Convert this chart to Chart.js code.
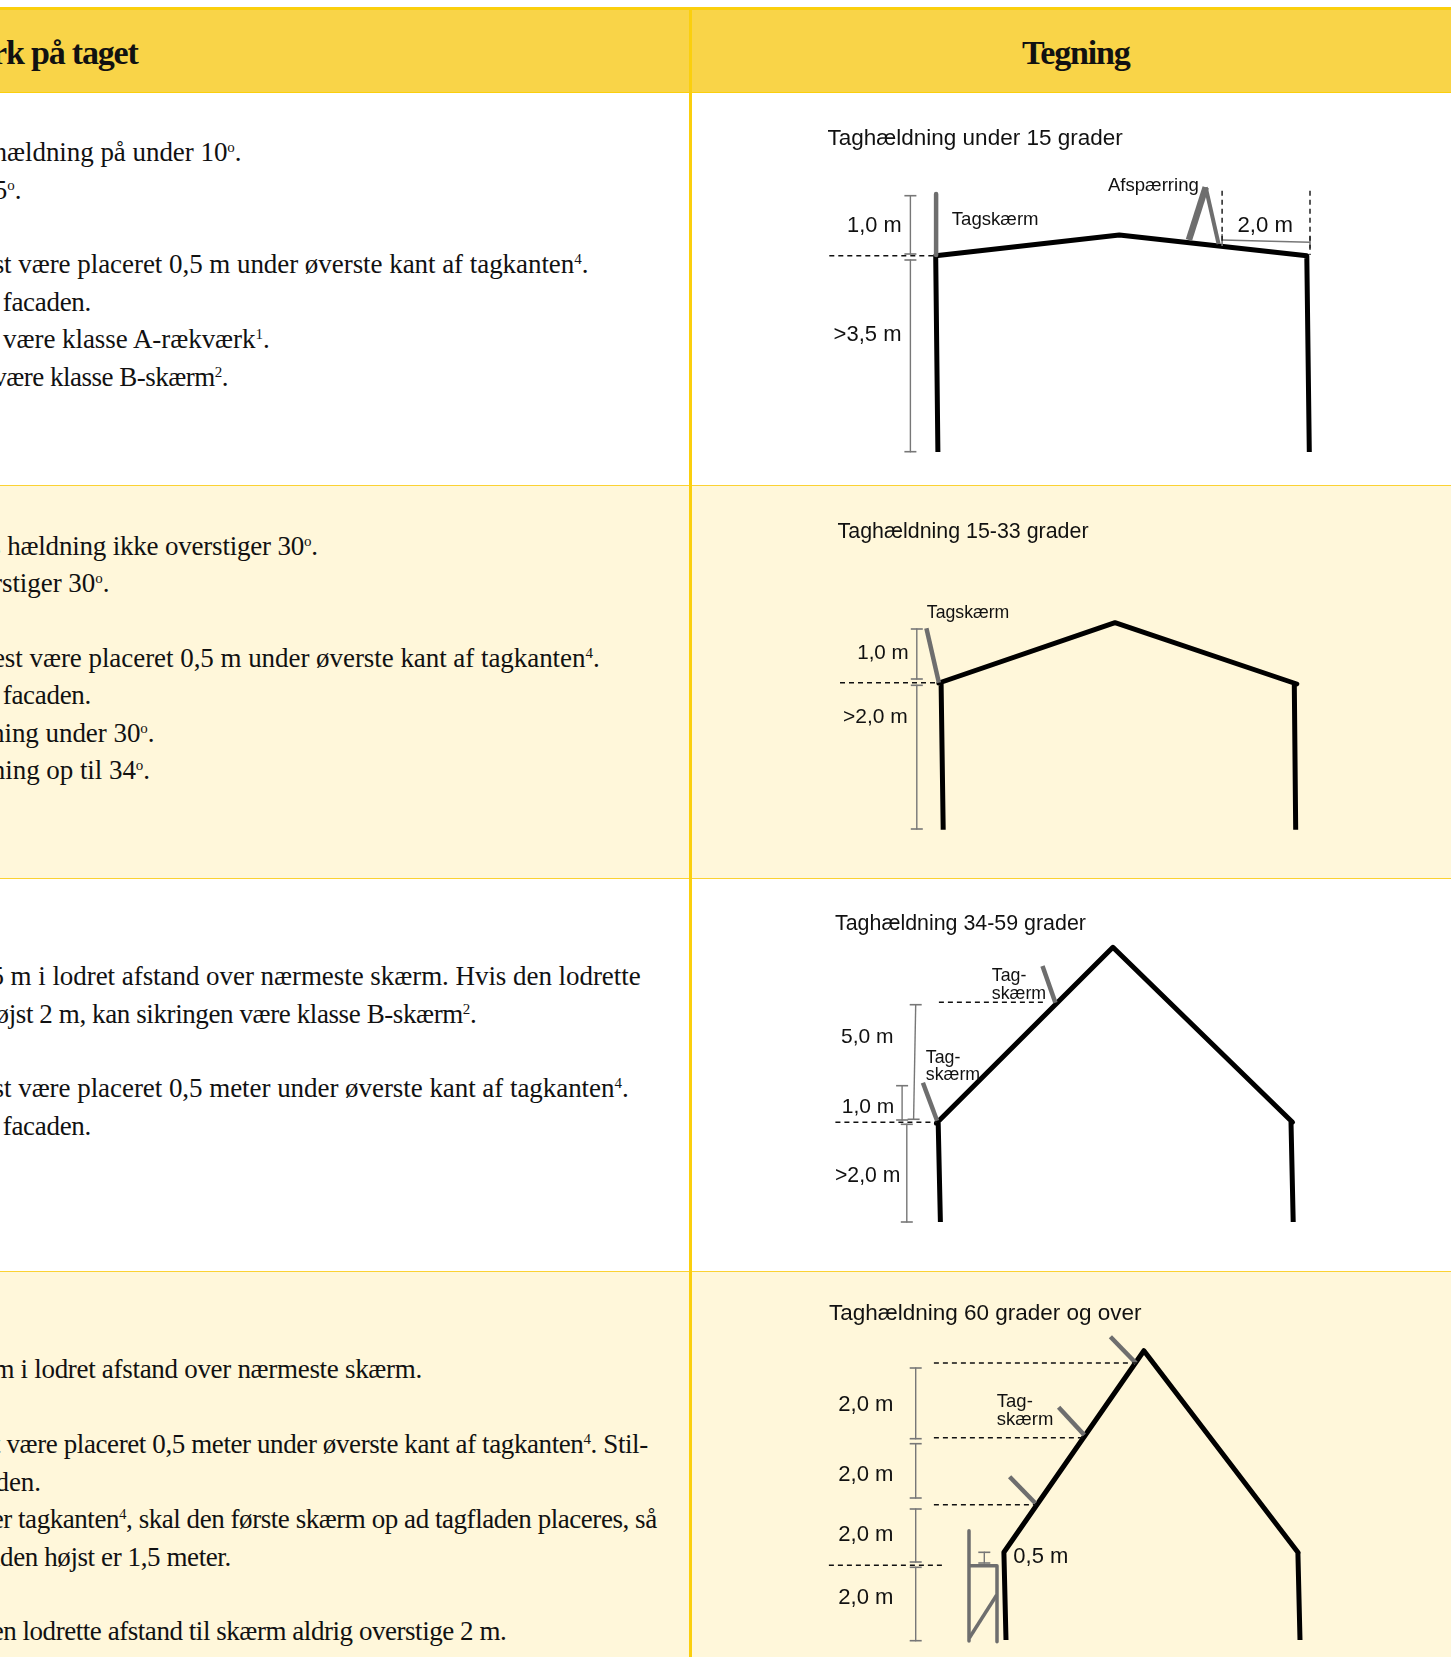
<!DOCTYPE html>
<html>
<head>
<meta charset="utf-8">
<script src="https://cdn.jsdelivr.net/npm/chart.js@4"></script>
<style>
  html, body { margin: 0; padding: 0; background: #fff; }
  #page { position: relative; width: 1451px; height: 1657px; overflow: hidden; background: #fff; }
  .band { position: absolute; left: 0; width: 1451px; }
  .line { position: absolute; white-space: nowrap; color: #111; font-family: "Liberation Serif", serif;
          font-size: 27px; line-height: 30px; letter-spacing: -0.05px; }
  .line sup { font-size: 15px; line-height: 0; vertical-align: 9px; }
  .head { font-weight: bold; font-size: 34px; line-height: 40px; letter-spacing: -1.2px; color: #111; }
  canvas { position: absolute; }
</style>
</head>
<body>
<div id="page"></div>
<script>
// Drawing 1: roof under 15 degrees
let roof1 = [[937.9, 452], [935.7, 255.7], [1119.3, 235], [1306.8, 255.7], [1309.3, 452]]
let screen1 = [[936.1, 194], [936.1, 255]]
let barrierA = [[1188.9, 240], [1205.7, 187.3]]
let barrierB = [[1205.7, 187.3], [1218.6, 244]]
let dims1 = [
  [[910.4, 195.7], [910.4, 254]],
  [[910.4, 260], [910.4, 451.7]]
]
let dims1h = [[[1222.1, 240], [1310, 242.3]]]
let dashes1 = [
  [[829.3, 255.7], [936, 255.7]],
  [[1222.1, 190.7], [1222.1, 244]],
  [[1310, 190.7], [1310, 255]]
]
let labels1 = [
  ["Taghældning under 15 grader", 827.5, 145, 22.5],
  ["Tagskærm", 951.8, 225, 18.6],
  ["Afspærring", 1107.9, 191, 18.6],
  ["1,0 m", 847.1, 232.3, 21.8],
  [">3,5 m", 833.6, 340.7, 22],
  ["2,0 m", 1237.4, 232.3, 22.2]
]

// Drawing 2: roof 15-33 degrees
let roof2 = [[943.2, 829.7], [941.1, 683.3], [938.9, 683], [1115, 622.7], [1296.8, 684], [1294.3, 684], [1295.7, 829.7]]
let screen2 = [[926.4, 628.3], [938.9, 682.7]]
let dims2 = [
  [[916.8, 629], [916.8, 679]],
  [[916.8, 685.3], [916.8, 829]]
]
let dashes2 = [[[840, 682.7], [937, 682.7]]]
let labels2 = [
  ["Taghældning 15-33 grader", 837.6, 537.7, 21.4],
  ["Tagskærm", 926.8, 617.7, 17.7],
  ["1,0 m", 857.2, 659, 20.6],
  [">2,0 m", 843, 723.3, 21]
]

// Drawing 3: roof 34-59 degrees
let roof3 = [[940.4, 1222], [938.2, 1123.3], [936.4, 1123.3], [1112.9, 947.3], [1292.5, 1122.3], [1291, 1122], [1293.2, 1222]]
let screen3a = [[922.9, 1082.7], [937.1, 1120.7]]
let screen3b = [[1042.5, 966], [1055.4, 1002.7]]
let dims3 = [
  [[915.7, 1004.7], [913.6, 1119.3]],
  [[902.1, 1085.7], [902.1, 1120]],
  [[906.8, 1124.3], [906.8, 1222]]
]
let dashes3 = [
  [[835.4, 1122.3], [937, 1122.3]],
  [[938.9, 1002.3], [1045, 1002.3]]
]
let labels3 = [
  ["Taghældning 34-59 grader", 835, 930, 21.4],
  ["Tag-", 991.8, 981.3, 17.8],
  ["skærm", 991.8, 998.7, 17.8],
  ["Tag-", 925.8, 1062.7, 17.8],
  ["skærm", 925.8, 1080, 17.8],
  ["5,0 m", 841, 1043.3, 21],
  ["1,0 m", 841.8, 1112.7, 21],
  [">2,0 m", 835, 1182, 21.2]
]

// Drawing 4: roof 60 degrees and over
let roof4 = [[1006, 1640], [1003.9, 1552.3], [1143.9, 1350.7], [1298.2, 1552.7], [1297.9, 1552.7], [1300, 1640]]
let screen4a = [[1110.4, 1336.7], [1136.1, 1363.3]]
let screen4b = [[1058.6, 1407.3], [1084.3, 1435]]
let screen4c = [[1009.6, 1476.7], [1035.4, 1503.3]]
let dims4 = [
  [[915.7, 1368], [915.7, 1438.7]],
  [[915.7, 1443.7], [915.7, 1498]],
  [[915.7, 1509], [915.7, 1562]],
  [[915.7, 1567.3], [915.7, 1640.7]],
  [[984.3, 1552.3], [984.3, 1563]]
]
let dashes4 = [
  [[933.9, 1363], [1137.1, 1363]],
  [[933.9, 1437.7], [1083.6, 1437.7]],
  [[933.9, 1504.7], [1036.4, 1504.7]],
  [[828.9, 1565.3], [942, 1565.3]]
]
let scaffoldPost = [[969, 1530.7], [969, 1641]]
let scaffoldBox = [[969, 1565.7], [997, 1565.7], [997, 1641.7]]
let scaffoldBrace = [[969.3, 1638], [996.7, 1595]]
let labels4 = [
  ["Taghældning 60 grader og over", 828.9, 1320, 22.5],
  ["Tag-", 996.8, 1406.7, 18.5],
  ["skærm", 996.8, 1425, 18.5],
  ["2,0 m", 838.2, 1410.7, 22.1],
  ["2,0 m", 838.2, 1480.7, 22.1],
  ["2,0 m", 838.2, 1540.7, 22.1],
  ["2,0 m", 838.2, 1604.3, 22.1],
  ["0,5 m", 1013.3, 1562.7, 22]
]

// Table text: line, right edge, baseline, letter spacing if it differs
let headerLines = [
  ["Rækværk på taget", 137.5, 64],
  ["Tegning", 1129.5, 64]
]
let bodyLines = [
  ["Rækværk ved taghældning på under 10<sup>o</sup>.", 241.5, 161],
  ["under 15<sup>o</sup>.", 21.4, 199],
  ["Skærmen skal mindst være placeret 0,5 m under øverste kant af tagkanten<sup>4</sup>.", 588.4, 273.3],
  ["langs facaden.", 91, 311, -0.3],
  ["Det skal være klasse A-rækværk<sup>1</sup>.", 269.6, 348],
  ["Det kan være klasse B-skærm<sup>2</sup>.", 228, 386, -0.5],
  ["Hvis hældning ikke overstiger 30<sup>o</sup>.", 317.9, 555, -0.2],
  ["overstiger 30<sup>o</sup>.", 109.4, 592.3],
  ["Skærmen skal mindest være placeret 0,5 m under øverste kant af tagkanten<sup>4</sup>.", 599.6, 667.3],
  ["langs facaden.", 91, 704.3, -0.3],
  ["hældning under 30<sup>o</sup>.", 154.5, 741.7],
  ["hældning op til 34<sup>o</sup>.", 150, 779],
  ["Højst 5 m i lodret afstand over nærmeste skærm. Hvis den lodrette", 640.6, 985],
  ["afstand er højst 2 m, kan sikringen være klasse B-skærm<sup>2</sup>.", 476.3, 1023.3, -0.4],
  ["Skærmen skal mindst være placeret 0,5 meter under øverste kant af tagkanten<sup>4</sup>.", 628.6, 1097.3],
  ["langs facaden.", 91, 1135, -0.3],
  ["Højst 2 m i lodret afstand over nærmeste skærm.", 421.9, 1378.3, -0.3],
  ["Skærmen skal mindst være placeret 0,5 meter under øverste kant af tagkanten<sup>4</sup>. Stil-", 647.8, 1453.3, -0.4],
  ["facaden.", 41, 1491],
  ["Ved stillads under tagkanten<sup>4</sup>, skal den første skærm op ad tagfladen placeres, så", 656.7, 1528.3, -0.45],
  ["afstanden højst er 1,5 meter.", 230.8, 1565.7, -0.4],
  ["Dog må den lodrette afstand til skærm aldrig overstige 2 m.", 506.3, 1640, -0.45]
]

let page = document.getElementById('page')

// ////////////////////////////
// Table
// ////////////////////////////

function band(top, height, color) {
  let d = document.createElement('div')
  d.className = 'band'
  d.style.top = top + 'px'
  d.style.height = height + 'px'
  d.style.background = color
  page.appendChild(d)
  return d
}

band(10, 81.5, '#f9d448')
band(486, 392, '#fff7da')
band(1272, 385, '#fff7da')
band(7, 3, '#fbcf0d')
band(91.5, 1, '#fbcf0d')
band(485, 1, '#fbd233')
band(878, 1, '#fbd233')
band(1271, 1, '#fbd233')

let divider = band(7, 1650, '#fbcf0d')
divider.style.left = '689px'
divider.style.width = '3px'

function putLine(item, cls, size, lineHeight) {
  let d = document.createElement('div')
  d.className = cls
  d.innerHTML = item[0]
  d.style.right = (1451 - item[1]) + 'px'
  // Liberation Serif baseline sits 0.3375em under the middle of the line box
  d.style.top = (item[2] - lineHeight / 2 - 0.3375 * size) + 'px'
  if (item[3] !== undefined) {
    d.style.letterSpacing = item[3] + 'px'
  }
  page.appendChild(d)
}

headerLines.forEach(l => putLine(l, 'line head', 34, 40))
bodyLines.forEach(l => putLine(l, 'line', 27, 30))

// ////////////////////////////
// Charts
// ////////////////////////////

// Write the label list of a chart as text at its own scale positions
const labelPlugin = {
  id: 'drawingLabels',
  afterDatasetsDraw(chart, args, opts) {
    let ctx = chart.ctx
    ctx.save()
    ctx.fillStyle = '#111'
    ctx.textBaseline = 'alphabetic'
    opts.items.forEach(l => {
      ctx.font = l[3] + 'px "Liberation Sans", Arial, sans-serif'
      ctx.fillText(l[0], chart.scales.x.getPixelForValue(l[1]), chart.scales.y.getPixelForValue(l[2]))
    })
    ctx.restore()
  }
}

function toPoints(list) {
  return list.map(p => ({ x: p[0], y: p[1] }))
}

function stroke(list, color, width) {
  return {
    data: toPoints(list), showLine: true, borderColor: color, borderWidth: width,
    pointRadius: 0, borderCapStyle: 'butt', borderJoinStyle: 'round', tension: 0
  }
}

function roofLine(list) { return stroke(list, '#000', 5) }
function screenLine(list, width) { return stroke(list, '#6e6e6e', width || 4.5) }

function dashLine(list) {
  let d = stroke(list, '#111', 1.4)
  d.borderDash = [5, 4]
  return d
}

// Measure line with its end ticks, the ticks are the dataset's own points
function dimLine(list, rotation) {
  let d = stroke(list, '#777', 1.4)
  d.pointStyle = 'line'
  d.pointRadius = 6
  d.pointRotation = rotation || 0
  d.pointBorderColor = '#777'
  d.pointBorderWidth = 1.6
  return d
}

function drawChart(top, bottom, datasets, labels) {
  let left = 692, right = 1451
  let canvas = document.createElement('canvas')
  canvas.width = right - left
  canvas.height = bottom - top
  canvas.style.left = left + 'px'
  canvas.style.top = top + 'px'
  page.appendChild(canvas)
  return new Chart(canvas.getContext('2d'), {
    type: 'scatter',
    data: { datasets: datasets },
    options: {
      responsive: false,
      animation: false,
      layout: { padding: 0, autoPadding: false },
      scales: {
        x: { type: 'linear', display: false, min: left, max: right },
        y: { type: 'linear', display: false, min: top, max: bottom, reverse: true }
      },
      plugins: {
        legend: { display: false },
        tooltip: { enabled: false },
        drawingLabels: { items: labels }
      }
    },
    plugins: [labelPlugin]
  })
}

drawChart(94, 485, [
  ...dashes1.map(dashLine),
  ...dims1.map(d => dimLine(d)),
  ...dims1h.map(d => dimLine(d, 90)),
  screenLine(screen1),
  screenLine(barrierA, 6.5),
  screenLine(barrierB, 4),
  roofLine(roof1)
], labels1)

drawChart(487, 878, [
  ...dashes2.map(dashLine),
  ...dims2.map(d => dimLine(d)),
  screenLine(screen2),
  roofLine(roof2)
], labels2)

drawChart(880, 1271, [
  ...dashes3.map(dashLine),
  ...dims3.map(d => dimLine(d)),
  screenLine(screen3a),
  screenLine(screen3b),
  roofLine(roof3)
], labels3)

drawChart(1273, 1657, [
  ...dashes4.map(dashLine),
  ...dims4.map(d => dimLine(d)),
  screenLine(screen4a),
  screenLine(screen4b),
  screenLine(screen4c),
  screenLine(scaffoldPost, 3.5),
  screenLine(scaffoldBox, 3.5),
  screenLine(scaffoldBrace, 3.5),
  roofLine(roof4)
], labels4)
</script>
</body>
</html>
